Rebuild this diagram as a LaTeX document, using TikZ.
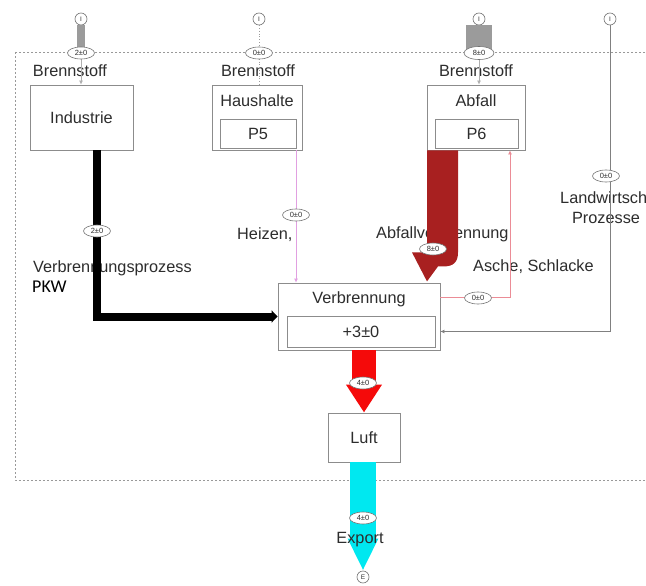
\documentclass[tikz,border=0pt]{standalone}
\usepackage{fontspec}
\setmainfont{Liberation Sans}
\newfontfamily\pkwfont{Carlito}
\usetikzlibrary{arrows.meta,calc,shapes.geometric}
\definecolor{darkflow}{RGB}{168,32,32}
\definecolor{redflow}{RGB}{245,10,10}
\definecolor{cyanflow}{RGB}{0,232,240}
\definecolor{pinkline}{RGB}{225,160,225}
\definecolor{ascheline}{RGB}{235,140,150}
\definecolor{srcgray}{RGB}{155,155,155}
\definecolor{txt}{RGB}{45,45,45}
\begin{document}
\begin{tikzpicture}[x=1pt,y=-1pt,
  box/.style={draw=black!45, line width=0.8pt, fill=white, inner sep=0pt, text=txt},
  lbl/.style={ellipse, draw=black!55, fill=white, line width=0.6pt, inner sep=0pt,
    minimum width=27pt, minimum height=12pt, font=\fontsize{7.5}{7.5}\selectfont, text=txt},
  srcnode/.style={circle, draw=black!55, fill=white, line width=0.6pt, inner sep=0pt,
    minimum size=12pt, font=\fontsize{6.5}{6.5}\selectfont, text=txt},
  tx/.style={font=\fontsize{16.3}{18}\selectfont, text=txt, inner sep=0pt},
  thin/.style={line width=0.8pt},
]
\useasboundingbox (0,0) rectangle (646,586);
\clip (0,0) rectangle (646,586);
\fill[white] (0,0) rectangle (646,586);

% system boundary
\draw[black!40, line width=0.8pt, dash pattern=on 2pt off 2pt] (15,52) rectangle (700,480);

% boxes
\node[box, minimum width=103pt, minimum height=65pt] (ind) at (81.5,117.5) {};
\node[tx] (indt) at (81.5,117.5) {Industrie};
\node[box, minimum width=90pt, minimum height=65pt] (hh) at (257,117.5) {};
\node[tx] (hht) at (257,101) {Haushalte};
\node[box, minimum width=76pt, minimum height=29pt, tx] (hhin) at (258,133.5) {P5};
\node[box, minimum width=98pt, minimum height=65pt] (abf) at (476,117.5) {};
\node[tx] (abft) at (476,101) {Abfall};
\node[box, minimum width=83pt, minimum height=29pt, tx] (abfin) at (476.5,133.5) {P6};
\node[box, minimum width=162pt, minimum height=67pt] (verb) at (359,316.5) {};
\node[tx] (verbt) at (359,299) {Verbrennung};
\node[box, minimum width=148pt, minimum height=31pt, tx] (verbin) at (361,331.5) {+3±0};
\node[box, minimum width=72pt, minimum height=49pt, tx] (luft) at (364,437.5) {Luft};

% source / sink circles
\node[srcnode] (s1) at (81,19) {I};
\node[srcnode] (s2) at (259,19) {I};
\node[srcnode] (s3) at (479,19) {I};
\node[srcnode] (s4) at (610,19) {I};

% texts under flows
\node[tx] (b1) at (70,71) {Brennstoff};
\node[tx] (b2) at (258,71) {Brennstoff};
\node[tx] (b3) at (476,71) {Brennstoff};
\node[tx, anchor=west] (vp) at (33,268) {Verbrennungsprozess};
\node[anchor=west, inner sep=0pt, font=\pkwfont\fontsize{18}{19}\selectfont] (pkw) at (32,287) {PKW};
\node[tx, anchor=west] (hz) at (237,235) {Heizen,};
\node[tx, anchor=west] (av) at (376,234) {Abfallverbrennung};
\node[tx, anchor=west] (as) at (473,267) {Asche, Schlacke};
\node[tx, anchor=west] (lw) at (560,198) {Landwirtsch};
\node[tx] (pz) at (606,218) {Prozesse};

% label coordinates
\coordinate (l1) at (81,53);
\coordinate (l2) at (259,53);
\coordinate (l3) at (479,53);

% import flows
\draw[srcgray, line width=8pt] (s1.south) -- (l1);
\draw[srcgray!80, thin, -{Latex[length=4pt,width=4pt]}] (l1) -- (s1 |- ind.north);
\draw[srcgray, thin, dotted] (s2.south) -- (s2 |- hh.north);
\draw[srcgray, line width=26pt] (s3.south) -- (l3);
\draw[srcgray!80, thin, -{Latex[length=4pt,width=4pt]}] (l3) -- (s3 |- abf.north);

% Industrie -> Verbrennung
\coordinate (i1) at ($(ind.south)+(15.5,0)$);
\draw[black, line width=8pt, -{Triangle[length=6pt,width=12pt]}] (i1) |- (verb.west);

% Haushalte -> Verbrennung
\coordinate (h1) at ($(hh.south)+(39,0)$);
\draw[pinkline, thin, -{Latex[length=4pt,width=4pt]}] (h1) -- (h1 |- verb.north);

% Verbrennung -> Abfall (Asche)
\coordinate (a1) at ($(verb.north east)+(0,15)$);
\coordinate (a2) at ($(abf.south)+(34,0)$);
\draw[ascheline, thin, -{Latex[length=4pt,width=4pt]}] (a1) -| (a2);

% Landwirtschaft -> Verbrennung
\draw[black!50, thin, -{Latex[length=4pt,width=4pt]}] (s4.south) |- (verb.east |- verbin.east);

% Abfall -> Verbrennung (Abfallverbrennung)
\begin{scope}[shift={(abf.south)}]
\fill[darkflow] (-49,0) -- (-18,0) -- (-18,102) .. controls (-18,112) and (-23,116) .. (-32,116)
  -- (-38,116) -- (-49,131) -- (-64,102) -- (-49,102) -- cycle;
\end{scope}

% Verbrennung -> Luft
\coordinate (r1) at (luft.north |- verb.south);
\draw[redflow, line width=24pt, -{Triangle[length=28pt,width=34pt]}] (r1) -- (luft.north);

% Luft -> Export
\node[srcnode] (e) at (363,577) {E};
\coordinate (c1) at (e.north |- luft.south);
\draw[cyanflow, line width=26pt, -{Triangle[length=32pt,width=28pt]}] (c1) -- (e.north);

% labels
\node[lbl] (L1) at (l1) {2±0};
\node[lbl] (L2) at (l2) {0±0};
\node[lbl, minimum width=30pt, minimum height=13pt] (L3) at (l3) {8±0};
\node[lbl] (L4) at (97,231) {2±0};
\node[lbl] (L5) at (296,215) {0±0};
\node[lbl] (L6) at (433,249) {8±0};
\node[lbl] (L7) at (478,298) {0±0};
\node[lbl] (L8) at (606,176) {0±0};
\node[lbl] (L9) at (363,383) {4±0};
\node[lbl] (L10) at (363,518) {4±0};
\node[tx] (ex) at (360,540) {Export};
\end{tikzpicture}
\end{document}
